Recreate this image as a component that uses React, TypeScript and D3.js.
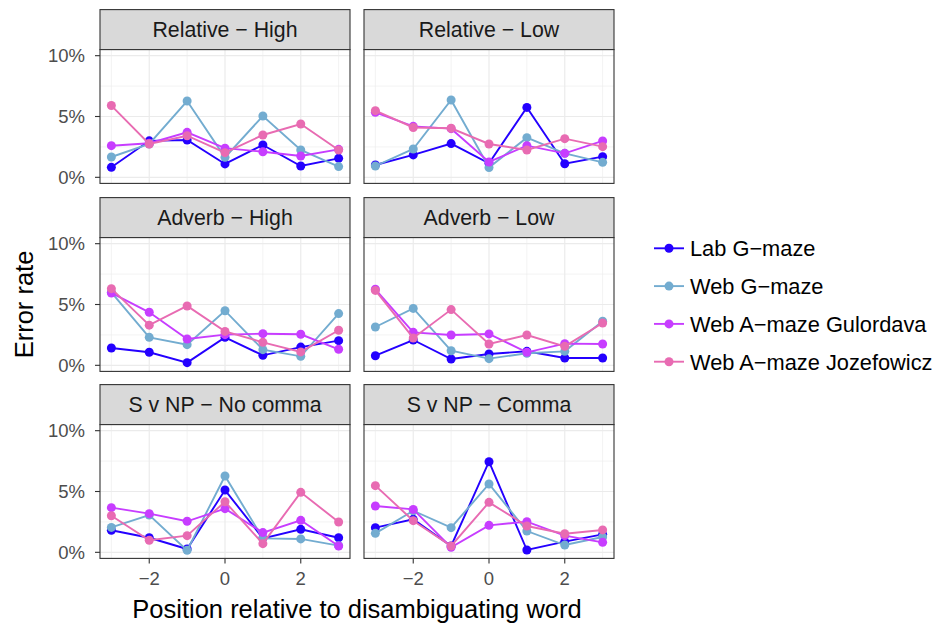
import React from 'react';
import * as d3 from 'd3';

const positions = [-3, -2, -1, 0, 1, 2, 3];
const panels = [
  'Relative − High', 'Relative − Low',
  'Adverb − High', 'Adverb − Low',
  'S v NP − No comma', 'S v NP − Comma',
];
const seriesNames = ['Lab G−maze', 'Web G−maze', 'Web A−maze Gulordava', 'Web A−maze Jozefowicz'];
const seriesColors = ['#2400ff', '#73acd0', '#c73dff', '#e86bb2'];

// error rate (%) by panel, then position -3..3
const labGmaze = [
  [0.82, 3.0, 3.07, 1.1, 2.66, 0.93, 1.56],
  [1.01, 1.84, 2.77, 1.15, 5.75, 1.12, 1.7],
  [1.42, 1.07, 0.22, 2.3, 0.82, 1.5, 2.03],
  [0.79, 2.08, 0.52, 0.93, 1.15, 0.6, 0.6],
  [1.81, 1.2, 0.27, 5.12, 1.15, 1.89, 1.2],
  [2.03, 2.71, 0.52, 7.45, 0.19, 0.88, 1.48],
];
const webGmaze = [
  [1.67, 2.74, 6.27, 1.64, 5.04, 2.25, 0.88],
  [0.93, 2.33, 6.36, 0.8, 3.26, 1.97, 1.23],
  [6.0, 2.3, 1.7, 4.49, 1.29, 0.74, 4.25],
  [3.15, 4.68, 1.2, 0.55, 0.99, 1.15, 3.62],
  [2.05, 3.07, 0.16, 6.27, 1.15, 1.1, 0.55],
  [1.56, 3.42, 2.03, 5.62, 1.75, 0.6, 1.26],
];
const webGulordava = [
  [2.6, 2.8, 3.7, 2.4, 2.1, 1.75, 2.3],
  [5.34, 4.19, 4.0, 1.26, 2.6, 1.97, 2.99],
  [5.95, 4.36, 2.16, 2.52, 2.6, 2.55, 1.32],
  [6.25, 2.71, 2.49, 2.58, 1.07, 1.78, 1.75],
  [3.67, 3.18, 2.55, 3.59, 1.62, 2.63, 0.52],
  [3.81, 3.53, 0.41, 2.22, 2.52, 1.37, 0.82],
];
const webJozefowicz = [
  [5.9, 2.74, 3.42, 2.03, 3.48, 4.38, 2.25],
  [5.48, 4.1, 4.03, 2.74, 2.25, 3.18, 2.52],
  [6.3, 3.3, 4.88, 2.79, 1.89, 1.1, 2.88],
  [6.16, 2.25, 4.58, 1.75, 2.49, 1.56, 3.48],
  [3.01, 0.99, 1.37, 4.16, 0.71, 4.93, 2.49],
  [5.48, 2.6, 0.52, 4.11, 2.16, 1.53, 1.84],
];
const allSeries = [labGmaze, webGmaze, webGulordava, webJozefowicz];

const xTicks = [-2, 0, 2];
const xMinor = [-3, -1, 1, 3];
const yTicks = [0, 5, 10];
const yMinor = [2.5, 7.5];

const W = 938, H = 626;
const font = '"Liberation Sans", Arial, sans-serif';
const colX = [100, 364];
const panelW = 250;
const rowTop = [49.6, 237.6, 424.6];
const panelH = 133.8;
const stripH = 40;

export default function App() {
  const x0 = d3.scaleLinear().domain([-3.3, 3.3]).range([0, panelW]);
  const y0 = d3.scaleLinear().domain([-0.5, 10.5]).range([panelH, 0]);
  const line = d3.line<number>().x((_, i) => x0(positions[i])).y(d => y0(d));

  return (
    <div style={{ position: 'absolute', left: 0, top: 0 }}>
      <svg width={W} height={H} style={{ display: 'block', background: '#fff' }} fontFamily={font}>
        {panels.map((name, p) => {
          const col = p % 2, row = Math.floor(p / 2);
          const px = colX[col], py = rowTop[row];
          return (
            <g key={name} transform={`translate(${px},${py})`}>
              {/* strip */}
              <rect x={0} y={-stripH} width={panelW} height={stripH} fill="#d9d9d9" stroke="#333333" strokeWidth={1.1} />
              <text x={panelW / 2} y={-stripH / 2} dy="0.36em" textAnchor="middle" fontSize={21.3} fill="#1a1a1a">{name}</text>
              <rect x={0} y={0} width={panelW} height={panelH} fill="#fff" />
              {/* grid */}
              {yMinor.map(v => <line key={'ym' + v} x1={0} x2={panelW} y1={y0(v)} y2={y0(v)} stroke="#ebebeb" strokeWidth={0.6} />)}
              {xMinor.map(v => <line key={'xm' + v} x1={x0(v)} x2={x0(v)} y1={0} y2={panelH} stroke="#ebebeb" strokeWidth={0.6} />)}
              {yTicks.map(v => <line key={'y' + v} x1={0} x2={panelW} y1={y0(v)} y2={y0(v)} stroke="#ebebeb" strokeWidth={1.2} />)}
              {xTicks.map(v => <line key={'x' + v} x1={x0(v)} x2={x0(v)} y1={0} y2={panelH} stroke="#ebebeb" strokeWidth={1.2} />)}
              {/* data */}
              {allSeries.map((s, k) => (
                <g key={k}>
                  <path d={line(s[p]) || ''} fill="none" stroke={seriesColors[k]} strokeWidth={1.9} />
                  {s[p].map((v, i) => (
                    <circle key={i} cx={x0(positions[i])} cy={y0(v)} r={4.5} fill={seriesColors[k]} />
                  ))}
                </g>
              ))}
              <rect x={0} y={0} width={panelW} height={panelH} fill="none" stroke="#333333" strokeWidth={1.1} />
              {/* y axis */}
              {col === 0 && yTicks.map(v => (
                <g key={'yt' + v}>
                  <line x1={-5} x2={0} y1={y0(v)} y2={y0(v)} stroke="#333333" strokeWidth={1.1} />
                  <text x={-15} y={y0(v)} dy="0.36em" textAnchor="end" fontSize={18.5} fill="#4d4d4d">{v}%</text>
                </g>
              ))}
              {/* x axis */}
              {row === 2 && xTicks.map(v => (
                <g key={'xt' + v}>
                  <line x1={x0(v)} x2={x0(v)} y1={panelH} y2={panelH + 5} stroke="#333333" strokeWidth={1.1} />
                  <text x={x0(v)} y={585 - rowTop[2]} textAnchor="middle" fontSize={18.5} fill="#4d4d4d">{v < 0 ? '−' + Math.abs(v) : v}</text>
                </g>
              ))}
            </g>
          );
        })}
        <text transform={`translate(33,304.5) rotate(-90)`} textAnchor="middle" fontSize={25.5} fill="#000">Error rate</text>
        <text x={357} y={618} textAnchor="middle" fontSize={25.5} fill="#000">Position relative to disambiguating word</text>
        {/* legend */}
        {seriesNames.map((n, k) => {
          const ly = 248.3 + k * 37.8;
          return (
            <g key={n}>
              <line x1={654} x2={684} y1={ly} y2={ly} stroke={seriesColors[k]} strokeWidth={1.9} />
              <circle cx={669} cy={ly} r={4.5} fill={seriesColors[k]} />
              <text x={690} y={ly} dy="0.36em" fontSize={21.8} fill="#000">{n}</text>
            </g>
          );
        })}
      </svg>
    </div>
  );
}
